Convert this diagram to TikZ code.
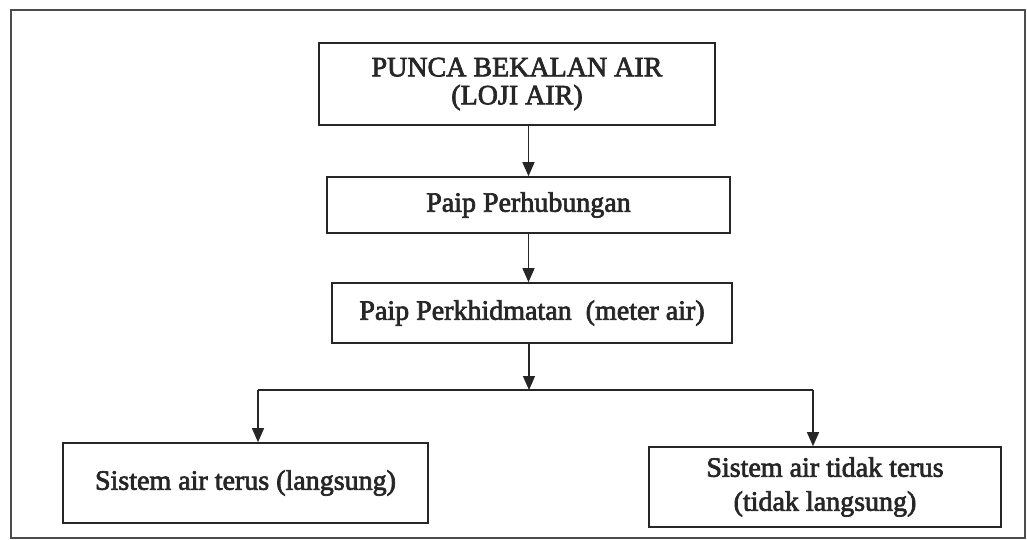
\documentclass[tikz,border=0pt]{standalone}
\usepackage{fontspec}
\setmainfont{Liberation Serif}
\newfontfamily\scanfont[FakeBold=2.5]{Liberation Serif}
\usetikzlibrary{arrows.meta}
\begin{document}
\begin{tikzpicture}[x=1pt,y=-1pt,
  box/.style={draw=black!85,line width=1.6pt,inner sep=0pt,align=center,
    font=\scanfont\fontsize{28}{28}\selectfont,text=black!85},
  arr/.style={draw=black!85,line width=1.3pt,-{Triangle[width=12pt,length=14pt]}},
  ln/.style={draw=black!85,line width=1.3pt}]
\useasboundingbox (0,0) rectangle (1027,540);
\draw[black!70,line width=1.4pt] (11,10) rectangle (1025,538);
\node[box,minimum width=396pt,minimum height=82pt] (top) at (517,84) {PUNCA BEKALAN AIR\\(LOJI AIR)};
\node[box,minimum width=403pt,minimum height=56pt] (b2) at (528.5,205) {Paip Perhubungan};
\node[box,minimum width=400pt,minimum height=60pt] (b3) at (532,313) {Paip Perkhidmatan\ \ (meter air)};
\node[box,minimum width=365pt,minimum height=80pt] (left) at (245.5,483) {Sistem air terus (langsung)};
\node[box,minimum width=352pt,minimum height=80pt,font=\scanfont\fontsize{28}{34}\selectfont] (right) at (825,487) {Sistem air tidak terus\\(tidak langsung)};
\coordinate (split) at (529,390);
\coordinate (jl) at (258,390);
\coordinate (jr) at (813,390);
\draw[arr] (top.south -| b2.north) -- (b2.north);
\draw[arr] (b2.south) -- (b2.south |- b3.north);
\draw[arr] (b3.south -| split) -- (split);
\draw[ln] (jl) -- (jr);
\draw[arr] (jl) -- (jl |- left.north);
\draw[arr] (jr) -- (jr |- right.north);
\end{tikzpicture}
\end{document}
